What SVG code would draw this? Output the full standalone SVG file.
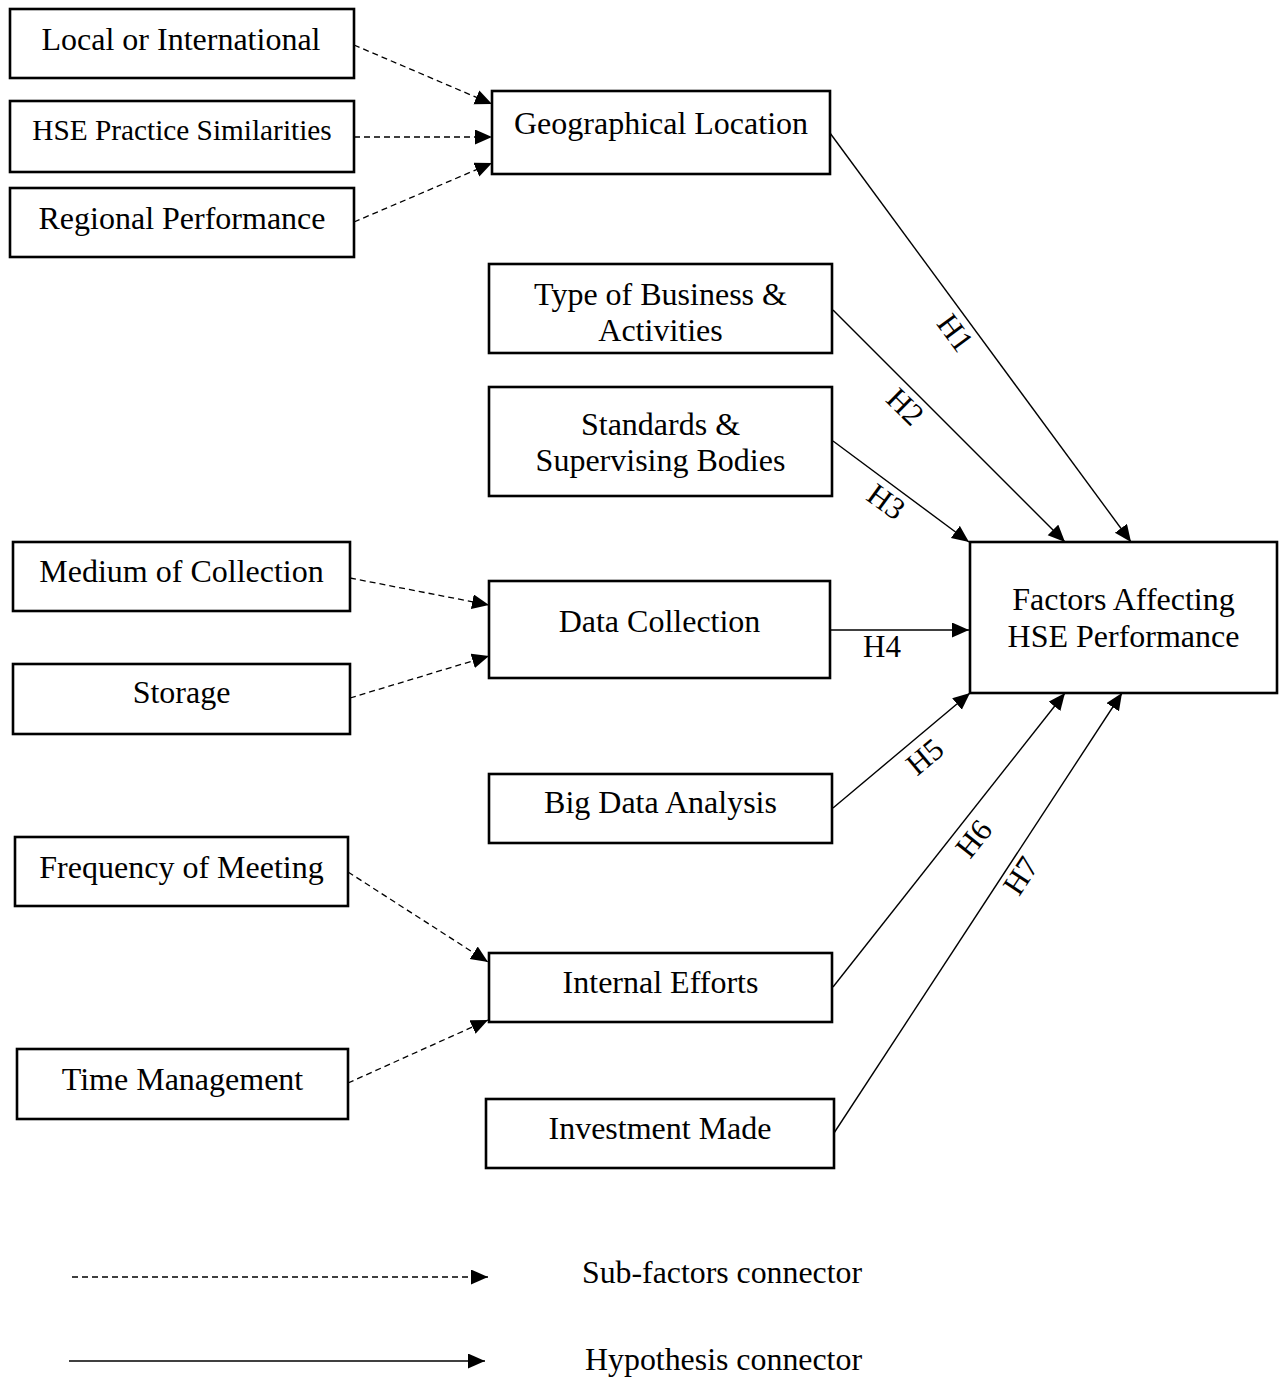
<svg xmlns="http://www.w3.org/2000/svg" width="1279" height="1382" viewBox="0 0 1279 1382">
  <style>
    .box { fill: #fff; stroke: #000; stroke-width: 2.6; }
    .lbl { font-family: "Liberation Serif", "Times New Roman", serif; font-size: 32px; fill: #000; text-anchor: middle; }
    .sm { font-size: 29.3px; }
    .hyp { font-family: "Liberation Serif", "Times New Roman", serif; font-size: 31px; fill: #000; text-anchor: middle; }
    .sub { fill: none; stroke: #000; stroke-width: 1.3; stroke-dasharray: 6 4; marker-end: url(#head); }
    .main { fill: none; stroke: #000; stroke-width: 1.4; marker-end: url(#head); }
  </style>
  <defs>
    <marker id="head" markerUnits="userSpaceOnUse" markerWidth="18" markerHeight="16" refX="17" refY="7.5" orient="auto">
      <path d="M0,0 L17,7.5 L0,15 Z" fill="#000"/>
    </marker>
  </defs>
  <rect width="1279" height="1382" fill="#fff"/>

  <!-- connectors -->
  <g id="connectors">
    <path class="sub" d="M354,45 L492,104"/>
    <path class="sub" d="M354,137 L492,137"/>
    <path class="sub" d="M354,222 L492,163"/>
    <path class="sub" d="M350,578 L489,605"/>
    <path class="sub" d="M350,698 L489,656"/>
    <path class="sub" d="M348,872 L488,962"/>
    <path class="sub" d="M348,1083 L488,1020"/>

    <path class="main" d="M830,133 L1131,542"/>
    <path class="main" d="M833,310 L1065,542"/>
    <path class="main" d="M833,441 L969,542"/>
    <path class="main" d="M830,630 L969,630"/>
    <path class="main" d="M833,808 L970,693"/>
    <path class="main" d="M833,987 L1065,693"/>
    <path class="main" d="M834,1133 L1122,693"/>

    <text class="hyp" transform="translate(955,333) rotate(53.6)" y="10">H1</text>
    <text class="hyp" transform="translate(905,407) rotate(44.5)" y="10">H2</text>
    <text class="hyp" transform="translate(886,502) rotate(36)" y="10">H3</text>
    <text class="hyp" x="882" y="657">H4</text>
    <text class="hyp" transform="translate(925,757) rotate(-40)" y="10">H5</text>
    <text class="hyp" transform="translate(974,839) rotate(-51.5)" y="10">H6</text>
    <text class="hyp" transform="translate(1021,876) rotate(-56.7)" y="10">H7</text>
  </g>

  <!-- sub-factor nodes -->
  <g id="local-international">
    <rect class="box" x="10" y="9" width="344" height="69"/>
    <text class="lbl" x="181" y="50">Local or International</text>
  </g>
  <g id="hse-practice">
    <rect class="box" x="10" y="101" width="344" height="71"/>
    <text class="lbl sm" x="182" y="140">HSE Practice Similarities</text>
  </g>
  <g id="regional-performance">
    <rect class="box" x="10" y="188" width="344" height="69"/>
    <text class="lbl" x="182" y="229">Regional Performance</text>
  </g>
  <g id="medium-collection">
    <rect class="box" x="13" y="542" width="337" height="69"/>
    <text class="lbl" x="181.5" y="582">Medium of Collection</text>
  </g>
  <g id="storage">
    <rect class="box" x="13" y="664" width="337" height="70"/>
    <text class="lbl" x="181.5" y="703">Storage</text>
  </g>
  <g id="frequency-meeting">
    <rect class="box" x="15" y="837" width="333" height="69"/>
    <text class="lbl" x="181.5" y="878">Frequency of Meeting</text>
  </g>
  <g id="time-management">
    <rect class="box" x="17" y="1049" width="331" height="70"/>
    <text class="lbl" x="182.5" y="1090">Time Management</text>
  </g>

  <!-- factor nodes -->
  <g id="geographical-location">
    <rect class="box" x="492" y="91" width="338" height="83"/>
    <text class="lbl" x="661" y="134">Geographical Location</text>
  </g>
  <g id="type-business">
    <rect class="box" x="489" y="264" width="343" height="89"/>
    <text class="lbl" x="660.5" y="305">Type of Business &amp;</text>
    <text class="lbl" x="660.5" y="341">Activities</text>
  </g>
  <g id="standards-bodies">
    <rect class="box" x="489" y="387" width="343" height="109"/>
    <text class="lbl" x="660.5" y="435">Standards &amp;</text>
    <text class="lbl" x="660.5" y="471">Supervising Bodies</text>
  </g>
  <g id="data-collection">
    <rect class="box" x="489" y="581" width="341" height="97"/>
    <text class="lbl" x="659.5" y="632">Data Collection</text>
  </g>
  <g id="big-data-analysis">
    <rect class="box" x="489" y="774" width="343" height="69"/>
    <text class="lbl" x="660.5" y="813">Big Data Analysis</text>
  </g>
  <g id="internal-efforts">
    <rect class="box" x="489" y="953" width="343" height="69"/>
    <text class="lbl" x="660.5" y="993">Internal Efforts</text>
  </g>
  <g id="investment-made">
    <rect class="box" x="486" y="1099" width="348" height="69"/>
    <text class="lbl" x="660" y="1139">Investment Made</text>
  </g>

  <!-- outcome node -->
  <g id="hse-performance">
    <rect class="box" x="970" y="542" width="307" height="151"/>
    <text class="lbl" x="1123.5" y="610">Factors Affecting</text>
    <text class="lbl" x="1123.5" y="647">HSE Performance</text>
  </g>

  <!-- legend -->
  <g id="legend">
    <path class="sub" d="M72,1277 L488,1277"/>
    <path class="main" d="M69,1361 L485,1361"/>
    <text class="lbl" x="722" y="1283" font-size="34" textLength="280" lengthAdjust="spacingAndGlyphs">Sub-factors connector</text>
    <text class="lbl" x="723.5" y="1370" font-size="34" textLength="277" lengthAdjust="spacingAndGlyphs">Hypothesis connector</text>
  </g>
</svg>
